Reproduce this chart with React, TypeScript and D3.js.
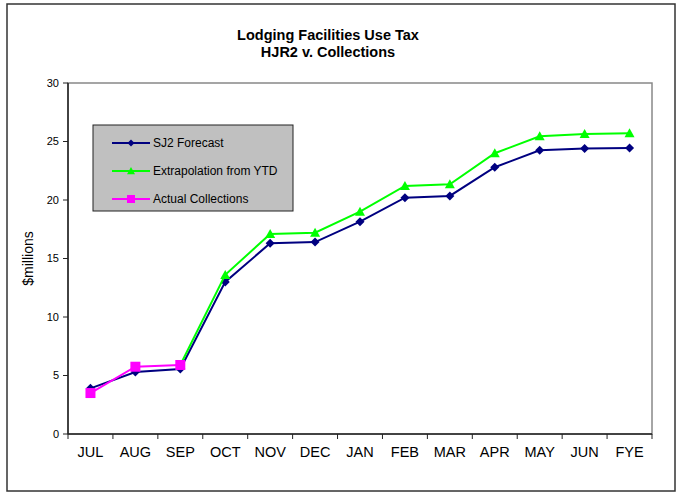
import * as d3 from "d3";

const MONTHS = ["JUL", "AUG", "SEP", "OCT", "NOV", "DEC", "JAN", "FEB", "MAR", "APR", "MAY", "JUN", "FYE"];
const SJ2_FORECAST = [3.9, 5.3, 5.55, 13.0, 16.3, 16.4, 18.15, 20.2, 20.35, 22.8, 24.25, 24.4, 24.45];
const EXTRAPOLATION = [null, null, 5.9, 13.6, 17.1, 17.2, 19.0, 21.2, 21.35, 24.0, 25.45, 25.65, 25.7];
const ACTUAL = [3.5, 5.75, 5.9, null, null, null, null, null, null, null, null, null, null];
const Y_TICKS = [0, 5, 10, 15, 20, 25, 30];

const FONT = "Liberation Sans, Arial, sans-serif";

type Pt = { m: string; v: number | null };

function markerPath(kind: string, s: number) {
  if (kind === "diamond") return `M0,${-s}L${s},0L0,${s}L${-s},0Z`;
  if (kind === "triangle") return `M0,${-s}L${s},${s * 0.8}L${-s},${s * 0.8}Z`;
  return `M${-s},${-s}H${s}V${s}H${-s}Z`;
}

export default function App() {
  const margin = { left: 68, right: 652, top: 83, bottom: 434 };

  const x = d3.scaleBand<string>().domain(MONTHS).range([margin.left, margin.right]);
  const y = d3.scaleLinear().domain([0, 30]).range([margin.bottom, margin.top]);
  const cx = (m: string) => (x(m) ?? 0) + x.bandwidth() / 2;

  const line = d3
    .line<Pt>()
    .defined((d) => d.v != null)
    .x((d) => cx(d.m))
    .y((d) => y(d.v as number));

  const series = [
    { name: "SJ2 Forecast", values: SJ2_FORECAST, color: "#000080", marker: "diamond", size: 4.5 },
    { name: "Extrapolation from YTD", values: EXTRAPOLATION, color: "#00ff00", marker: "triangle", size: 5 },
    { name: "Actual Collections", values: ACTUAL, color: "#ff00ff", marker: "square", size: 5 },
  ];

  const boundaries = MONTHS.map((m) => x(m) ?? 0).concat([margin.right]);

  return (
    <div style={{ position: "absolute", left: 0, top: 0 }}>
      <svg width={680} height={495} style={{ display: "block", background: "#fff" }} fontFamily={FONT}>
        <rect x={7} y={4} width={668} height={487} fill="#fff" stroke="#333" strokeWidth={1.5} />

        <text x={328} y={40} textAnchor="middle" fontSize={14.5} fontWeight="bold">
          Lodging Facilities Use Tax
        </text>
        <text x={328} y={57} textAnchor="middle" fontSize={14.5} fontWeight="bold">
          HJR2 v. Collections
        </text>

        {/* plot area border */}
        <rect
          x={margin.left}
          y={margin.top}
          width={margin.right - margin.left}
          height={margin.bottom - margin.top}
          fill="none"
          stroke="#888"
          strokeWidth={1.5}
        />

        {/* y axis */}
        <line x1={margin.left} x2={margin.left} y1={margin.top} y2={margin.bottom} stroke="#222" strokeWidth={1.5} />
        {Y_TICKS.map((t) => (
          <g key={t}>
            <line x1={margin.left - 5} x2={margin.left} y1={y(t)} y2={y(t)} stroke="#222" />
            <text x={59} y={y(t)} dy="0.35em" textAnchor="end" fontSize={11}>
              {t}
            </text>
          </g>
        ))}
        <text
          transform={`translate(33,${(margin.top + margin.bottom) / 2}) rotate(-90)`}
          textAnchor="middle"
          fontSize={14}
        >
          $millions
        </text>

        {/* x axis */}
        <line x1={margin.left} x2={margin.right} y1={margin.bottom} y2={margin.bottom} stroke="#222" strokeWidth={1.5} />
        {boundaries.map((b, i) => (
          <line key={i} x1={b} x2={b} y1={margin.bottom} y2={margin.bottom + 5} stroke="#222" />
        ))}
        {MONTHS.map((m) => (
          <text key={m} x={cx(m)} y={457} textAnchor="middle" fontSize={14.5}>
            {m}
          </text>
        ))}

        {/* series */}
        {series.map((s) => {
          const pts: Pt[] = MONTHS.map((m, i) => ({ m, v: s.values[i] }));
          return (
            <g key={s.name}>
              <path d={line(pts) ?? ""} fill="none" stroke={s.color} strokeWidth={2} />
              {pts
                .filter((p) => p.v != null)
                .map((p) => (
                  <path
                    key={p.m}
                    transform={`translate(${cx(p.m)},${y(p.v as number)})`}
                    d={markerPath(s.marker, s.size)}
                    fill={s.color}
                  />
                ))}
            </g>
          );
        })}

        {/* legend */}
        <rect x={93} y={125} width={200} height={86} fill="#c0c0c0" stroke="#222" strokeWidth={1} />
        {series.map((s, i) => {
          const ly = 143 + i * 28;
          return (
            <g key={s.name}>
              <line x1={112} x2={150} y1={ly} y2={ly} stroke={s.color} strokeWidth={2} />
              <path transform={`translate(131,${ly})`} d={markerPath(s.marker, s.size - 1)} fill={s.color} />
              <text x={153} y={ly} dy="0.35em" fontSize={12}>
                {s.name}
              </text>
            </g>
          );
        })}
      </svg>
    </div>
  );
}
